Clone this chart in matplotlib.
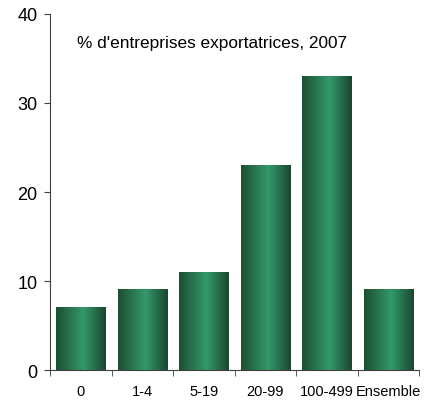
import numpy as np
import matplotlib
matplotlib.use("Agg")
import matplotlib.pyplot as plt
from matplotlib.colors import LinearSegmentedColormap

categories = ["0", "1-4", "5-19", "20-99", "100-499", "Ensemble"]
values = [7, 9, 11, 23, 33, 9]
title = "% d'entreprises exportatrices, 2007"

plt.rcParams['font.family'] = ['Liberation Sans', 'DejaVu Sans']

fig = plt.figure(figsize=(4.37, 4.02), dpi=100)
ax = fig.add_axes([0.1144, 0.0771, 0.8446, 0.8856])

cmap = LinearSegmentedColormap.from_list(
    "bar", [(0.0, "#1c4f33"), (0.55, "#33996a"), (1.0, "#1b4630")])
grad = np.linspace(0, 1, 256).reshape(1, -1)

x = np.arange(len(categories))
bars = ax.bar(x, values, width=0.8, color="none", edgecolor="none")
for b in bars:
    x0, w, h = b.get_x(), b.get_width(), b.get_height()
    ax.imshow(grad, extent=[x0, x0 + w, 0, h], aspect="auto", cmap=cmap,
              zorder=2, interpolation="bilinear")

ax.set_xlim(-0.5, len(categories) - 0.5)
ax.set_ylim(0, 40)
ax.set_yticks([0, 10, 20, 30, 40])
ax.set_xticks(x)
ax.set_xticklabels(categories, fontsize=10.5)
ax.set_xticks(np.arange(len(categories) + 1) - 0.5, minor=True)
ax.tick_params(axis="x", which="major", length=0, pad=10)
ax.tick_params(axis="x", which="minor", length=4, direction="out", color="#404040")
ax.tick_params(axis="y", length=4, direction="out", labelsize=13, color="#404040", pad=5)

for side in ["top", "right"]:
    ax.spines[side].set_visible(False)
for side in ["left", "bottom"]:
    ax.spines[side].set_color("#404040")
    ax.spines[side].set_linewidth(0.8)

ax.text(0.073, 0.92, title, transform=ax.transAxes, fontsize=12.4,
        ha="left", va="center")

fig.savefig("out.png", dpi=100)
